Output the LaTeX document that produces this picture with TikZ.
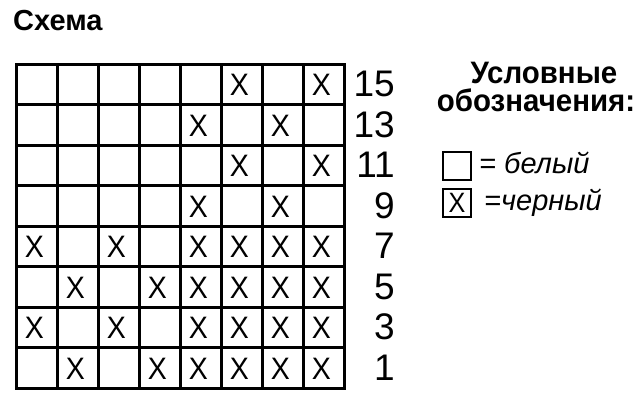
\documentclass[tikz,border=0pt]{standalone}
\usepackage{fontspec}
\setmainfont{Liberation Sans}
\begin{document}
\begin{tikzpicture}[x=1pt,y=-1pt,
        gridline/.style={black, line width=3pt, line cap=rect},
        cross/.style={inner sep=0, font=\fontsize{31}{31}\selectfont\addfontfeature{FakeStretch=0.92}},
        rownum/.style={anchor=east, inner sep=0, font=\fontsize{37}{37}\selectfont},
        legtitle/.style={anchor=base, inner sep=0, font=\bfseries\fontsize{31}{31}\selectfont\addfontfeature{FakeStretch=0.95}},
        legtext/.style={anchor=base west, inner sep=0, font=\itshape\fontsize{29}{29}\selectfont},
        legbox/.style={draw, black, line width=2.5pt, minimum width=28pt, minimum height=28pt, inner sep=0}]
        \useasboundingbox (0,0) rectangle (640,410);
        \node[anchor=base west, inner sep=0, font=\bfseries\fontsize{29}{29}\selectfont] (title) at (13,30) {Схема};
        % сетка 8x8
        \foreach \i in {0,...,8} {
                \draw[gridline] (16+41*\i,64) -- (16+41*\i,388);
                \draw[gridline] (16,64+40.5*\i) -- (344,64+40.5*\i);
            }
        % черные клетки, ряды сверху вниз
        \foreach \r/\cols in {1/{6,8}, 2/{5,7}, 3/{6,8}, 4/{5,7},
                5/{1,3,5,6,7,8}, 6/{2,4,5,6,7,8}, 7/{1,3,5,6,7,8}, 8/{2,4,5,6,7,8}} {
                \foreach \c in \cols {
                        \node[cross] (x-\r-\c) at (16+41*\c-22.5,64+40.5*\r-19.5) {X};
                    }
            }
        % номера рядов
        \foreach \r in {1,...,8} {
                \pgfmathtruncatemacro\rownr{17-2*\r}
                \node[rownum] (n-\r) at (395,64+40.5*\r-20.25) {\rownr};
            }
        % условные обозначения
        \node[legtitle] (leg-a) at (544,83) {Условные};
        \node[legtitle] (leg-b) at (536,111) {обозначения:};
        \node[legbox] (white-box) at (457,166) {};
        \node[legbox, font=\fontsize{28}{28}\selectfont\addfontfeature{FakeStretch=0.9}] (black-box) at (457,203) {X};
        \node[legtext] (white-text) at (479,173) {= белый};
        \node[legtext] (black-text) at (484,210) {=черный};
    \end{tikzpicture}
\end{document}
